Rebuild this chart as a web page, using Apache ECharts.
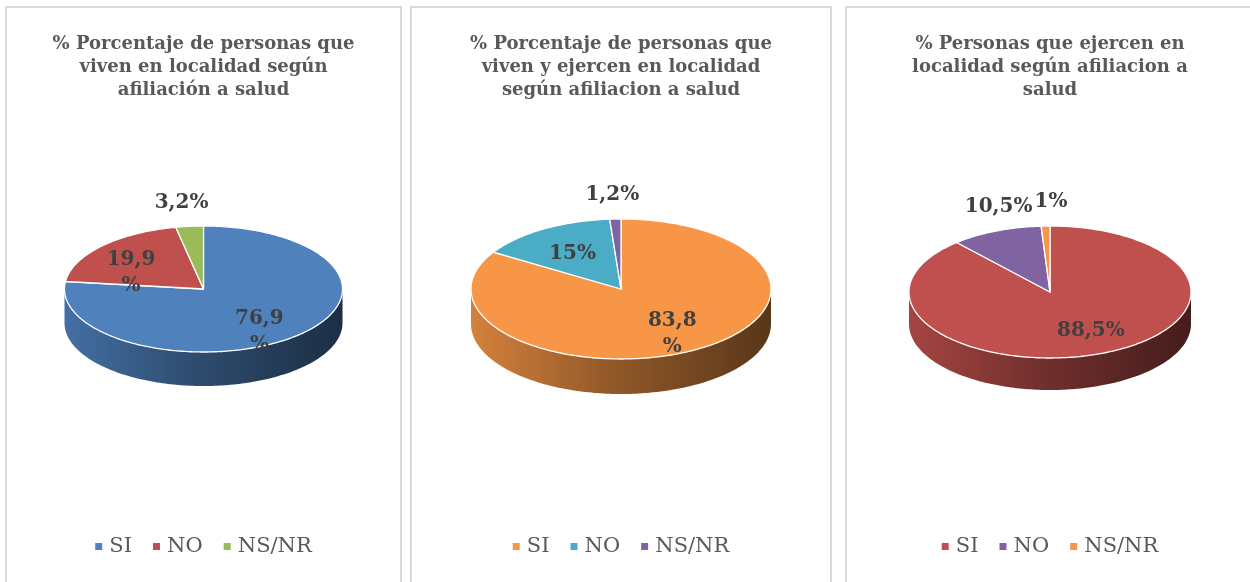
<!DOCTYPE html>
<html>
<head>
<meta charset="utf-8">
<script src="https://cdn.jsdelivr.net/npm/echarts@6/dist/echarts.min.js"></script>
<style>
  body { margin: 0; background: #fff; width: 1250px; height: 582px; overflow: hidden; position: relative; }
  .panel { position: absolute; top: 6px; height: 600px; border: 2px solid #d9d9d9; box-sizing: border-box; }
</style>
</head>
<body>
<div id="chart1" class="panel" style="left:5px;width:397px"></div>
<div id="chart2" class="panel" style="left:410px;width:422px"></div>
<div id="chart3" class="panel" style="left:845px;width:410px"></div>
<script>
// categories shared by the three pies
const categories = ["SI", "NO", "NS/NR"];

// % values
const viven = [76.9, 19.9, 3.2];
const vivenEjercen = [83.8, 15, 1.2];
const ejercen = [88.5, 10.5, 1];

const titles = [
  "% Porcentaje de personas que\nviven en localidad según\nafiliación a salud",
  "% Porcentaje de personas que\nviven y ejercen en localidad\nsegún afiliacion a salud",
  "% Personas que ejercen en\nlocalidad según afiliacion a\nsalud",
];

const colors1 = ["#4F81BD", "#C0504D", "#9BBB59"];
const colors2 = ["#F79646", "#4BACC6", "#8064A2"];
const colors3 = ["#C0504D", "#8064A2", "#F79646"];

const FONT = '"DejaVu Serif", "Liberation Serif", serif';
const LABEL_SIZE = 20;
const measureCtx = document.createElement("canvas").getContext("2d");

function shade(hex, k) {
  const n = parseInt(hex.slice(1), 16);
  const r = Math.round(((n >> 16) & 255) * k);
  const g = Math.round(((n >> 8) & 255) * k);
  const b = Math.round((n & 255) * k);
  return `rgb(${r},${g},${b})`;
}

function fmt(v) {
  return String(v).replace(".", ",") + "%";
}

let chartInstances = {};

/**
 * Draws one tilted (3D look) pie: every category is its own custom series,
 * so the legend picks up names and colours.
 */
function buildPie(id, values, colors, title, geo) {
  const dom = document.getElementById(id);
  const chart = echarts.init(dom);
  chartInstances[id] = chart;
  const total = values.reduce((a, b) => a + b, 0);
  const starts = values.map((v, i) => values.slice(0, i).reduce((a, b) => a + b, 0));

  // label anchors, worked out from the slice angles
  function layoutLabels(w) {
    const cx = w / 2;
    measureCtx.font = `bold ${LABEL_SIZE}px ${FONT}`;
    const out = values.map((v, i) => {
      const mid = ((starts[i] + v / 2) / total) * Math.PI * 2;
      const outside = v / total < 0.12;
      const f = outside ? 1 : 0.66;
      let x = cx + geo.rx * f * Math.sin(mid);
      let y = geo.cy - geo.ry * f * Math.cos(mid);
      if (outside) {
        y -= 24;
        x += geo.outDx;
      } else {
        y += geo.labelDy;
        x += geo.labelDx;
      }
      return { x, y, outside, w: measureCtx.measureText(fmt(v)).width };
    });
    const outs = out.filter((o) => o.outside).sort((a, b) => a.x - b.x);
    for (let k = 1; k < outs.length; k++) {
      const a = outs[k - 1], b = outs[k];
      const overlap = a.x + a.w / 2 + 2 - (b.x - b.w / 2);
      if (overlap > 0) {
        a.x -= overlap / 2;
        b.x += overlap / 2;
      }
    }
    return out;
  }

  const series = categories.map((name, i) => ({
    type: "custom",
    name: name,
    coordinateSystem: "none",
    color: colors[i],
    itemStyle: { color: colors[i] },
    data: [values[i]],
    renderItem: function (params, api) {
      const w = api.getWidth();
      const cx = w / 2, cy = geo.cy, rx = geo.rx, ry = geo.ry, depth = geo.depth;
      const a0 = (starts[i] / total) * Math.PI * 2;
      const a1 = ((starts[i] + api.value(0)) / total) * Math.PI * 2;

      const pt = (a, dy) => [cx + rx * Math.sin(a), cy - ry * Math.cos(a) + dy];
      const arc = (a, b, dy) => {
        const n = Math.max(2, Math.ceil(Math.abs(b - a) / 0.02));
        const pts = [];
        for (let k = 0; k <= n; k++) pts.push(pt(a + ((b - a) * k) / n, dy));
        return pts;
      };

      const children = [];
      // front wall, only the part facing the viewer
      const lo = Math.max(a0, Math.PI / 2);
      const hi = Math.min(a1, Math.PI * 1.5);
      if (hi > lo) {
        children.push({
          type: "polygon",
          z2: 1,
          shape: { points: arc(lo, hi, 0).concat(arc(hi, lo, depth)) },
          style: {
            fill: new echarts.graphic.LinearGradient(cx - rx, 0, cx + rx, 0, [
              { offset: 0, color: shade(colors[i], 0.86) },
              { offset: 0.45, color: shade(colors[i], 0.6) },
              { offset: 1, color: shade(colors[i], 0.36) },
            ], true),
          },
        });
      }
      // top face
      children.push({
        type: "polygon",
        z2: 5,
        shape: { points: [[cx, cy]].concat(arc(a0, a1, 0)) },
        style: { fill: colors[i], stroke: "#fff", lineWidth: 1.3, lineJoin: "round" },
      });
      // data label
      const lab = layoutLabels(w)[i];
      children.push({
        type: "text",
        z2: 10,
        style: {
          text: fmt(api.value(0)),
          x: lab.x,
          y: lab.y,
          align: "center",
          verticalAlign: "middle",
          width: lab.outside ? undefined : geo.labelWidth,
          overflow: lab.outside ? "none" : "breakAll",
          lineHeight: 26,
          fontSize: LABEL_SIZE,
          fontWeight: "bold",
          fontFamily: FONT,
          fill: "#404040",
        },
      });
      return { type: "group", children: children };
    },
  }));

  const option = {
    animation: false,
    title: {
      text: title,
      left: "center",
      top: 25,
      padding: 0,
      textStyle: {
        fontFamily: FONT,
        fontSize: 18,
        fontWeight: "bold",
        color: "#595959",
        lineHeight: 23,
      },
    },
    legend: {
      data: categories,
      left: "center",
      top: 528,
      padding: 0,
      icon: "rect",
      itemWidth: 7,
      itemHeight: 7,
      itemGap: 21,
      selectedMode: false,
      formatter: "\u200A{name}",
      textStyle: { fontFamily: FONT, fontSize: 21, color: "#595959", lineHeight: 21 },
    },
    series: series,
  };

  try {
    chart.setOption(option);
  } catch (error) {
    console.error(`Error setting chart options for ${id}:`, error);
  }
}

buildPie("chart1", viven, colors1, titles[0], { cy: 281, rx: 139, ry: 63, depth: 34, labelWidth: 58, labelDy: 12, labelDx: -5, outDx: -8 });
buildPie("chart2", vivenEjercen, colors2, titles[1], { cy: 281, rx: 150, ry: 70, depth: 35, labelWidth: 58, labelDy: 4, labelDx: 3, outDx: -3 });
buildPie("chart3", ejercen, colors3, titles[2], { cy: 284, rx: 141, ry: 66, depth: 32, labelWidth: 90, labelDy: -2, labelDx: 8, outDx: 4 });

window.addEventListener("resize", () => {
  Object.values(chartInstances).forEach((c) => c.resize());
});
</script>
</body>
</html>
